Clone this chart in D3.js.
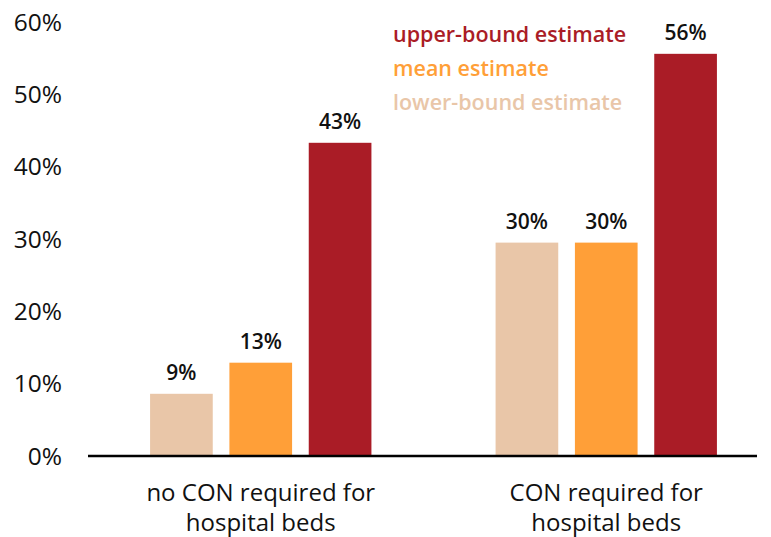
<!DOCTYPE html>
<html>
<head>
<meta charset="utf-8">
<script src="https://cdn.jsdelivr.net/npm/d3@7"></script>
<style>
  body { margin: 0; background: #fff; }
  svg { display: block; font-family: "Open Sans", Lato, sans-serif; }
</style>
</head>
<body>
<svg id="chart" width="771" height="537"></svg>
<script>
// data (percent)
var groups = ["no CON required for|hospital beds", "CON required for|hospital beds"];
var series = ["lower-bound estimate", "mean estimate", "upper-bound estimate"];
var lowerVals = [8.6, 29.5];
var meanVals = [12.9, 29.5];
var upperVals = [43.3, 55.6];
var yTicks = [0, 10, 20, 30, 40, 50, 60];
var colors = ["#e9c6a8", "#ff9f38", "#aa1c26"];

var valuesBySeries = [lowerVals, meanVals, upperVals];
var data = [];
groups.forEach(function(g, gi) {
  series.forEach(function(s, si) {
    data.push({group: g, series: s, value: valuesBySeries[si][gi], color: colors[si]});
  });
});

var svg = d3.select("#chart");

var x0 = d3.scaleBand()
    .domain(groups)
    .range([88, 779]);
var x1 = d3.scaleBand()
    .domain(series)
    .range([-119, 119])
    .paddingInner(0.21)
    .paddingOuter(0.105);
var y = d3.scaleLinear()
    .domain([0, 60])
    .range([456, 22]);

function cx(g) { return x0(g) + x0.bandwidth() / 2; }

// y tick labels (no axis line)
svg.append("g")
    .selectAll("text")
    .data(yTicks)
  .enter().append("text")
    .attr("x", 62)
    .attr("y", function(d) { return y(d); })
    .attr("dy", "0.36em")
    .attr("text-anchor", "end")
    .attr("font-size", 24.5)
    .attr("fill", "#111")
    .text(function(d) { return d + "%"; });

// bars
svg.append("g")
    .selectAll("rect")
    .data(data)
  .enter().append("rect")
    .attr("x", function(d) { return cx(d.group) + x1(d.series); })
    .attr("width", x1.bandwidth())
    .attr("y", function(d) { return y(d.value); })
    .attr("height", function(d) { return y(0) - y(d.value); })
    .attr("fill", function(d) { return d.color; });

// value labels
svg.append("g")
    .selectAll("text")
    .data(data)
  .enter().append("text")
    .attr("x", function(d) { return cx(d.group) + x1(d.series) + x1.bandwidth() / 2; })
    .attr("y", function(d) { return y(d.value) - 14; })
    .attr("text-anchor", "middle")
    .attr("font-size", 21)
    .attr("font-weight", 600)
    .attr("fill", "#111")
    .text(function(d) { return Math.round(d.value) + "%"; });

// baseline
svg.append("line")
    .attr("x1", 88)
    .attr("x2", 757)
    .attr("y1", y(0))
    .attr("y2", y(0))
    .attr("stroke", "#000")
    .attr("stroke-width", 2.5);

// category labels, two lines each
var cat = svg.append("g")
    .selectAll("text")
    .data(groups)
  .enter().append("text")
    .attr("text-anchor", "middle")
    .attr("font-size", 24)
    .attr("fill", "#111");
cat.selectAll("tspan")
    .data(function(d) { return d.split("|").map(function(t) { return {t: t, g: d}; }); })
  .enter().append("tspan")
    .attr("x", function(d) { return cx(d.g); })
    .attr("y", function(d, i) { return 501 + i * 30; })
    .text(function(d) { return d.t; });

// legend (top item = upper bound)
var legendOrder = series.slice().reverse();
svg.append("g")
    .selectAll("text")
    .data(legendOrder)
  .enter().append("text")
    .attr("x", 393)
    .attr("y", function(d, i) { return 34 + i * 34; })
    .attr("dy", "0.36em")
    .attr("font-size", 21.5)
    .attr("font-weight", 600)
    .attr("fill", function(d) { return colors[series.indexOf(d)]; })
    .text(function(d) { return d; });
</script>
</body>
</html>
